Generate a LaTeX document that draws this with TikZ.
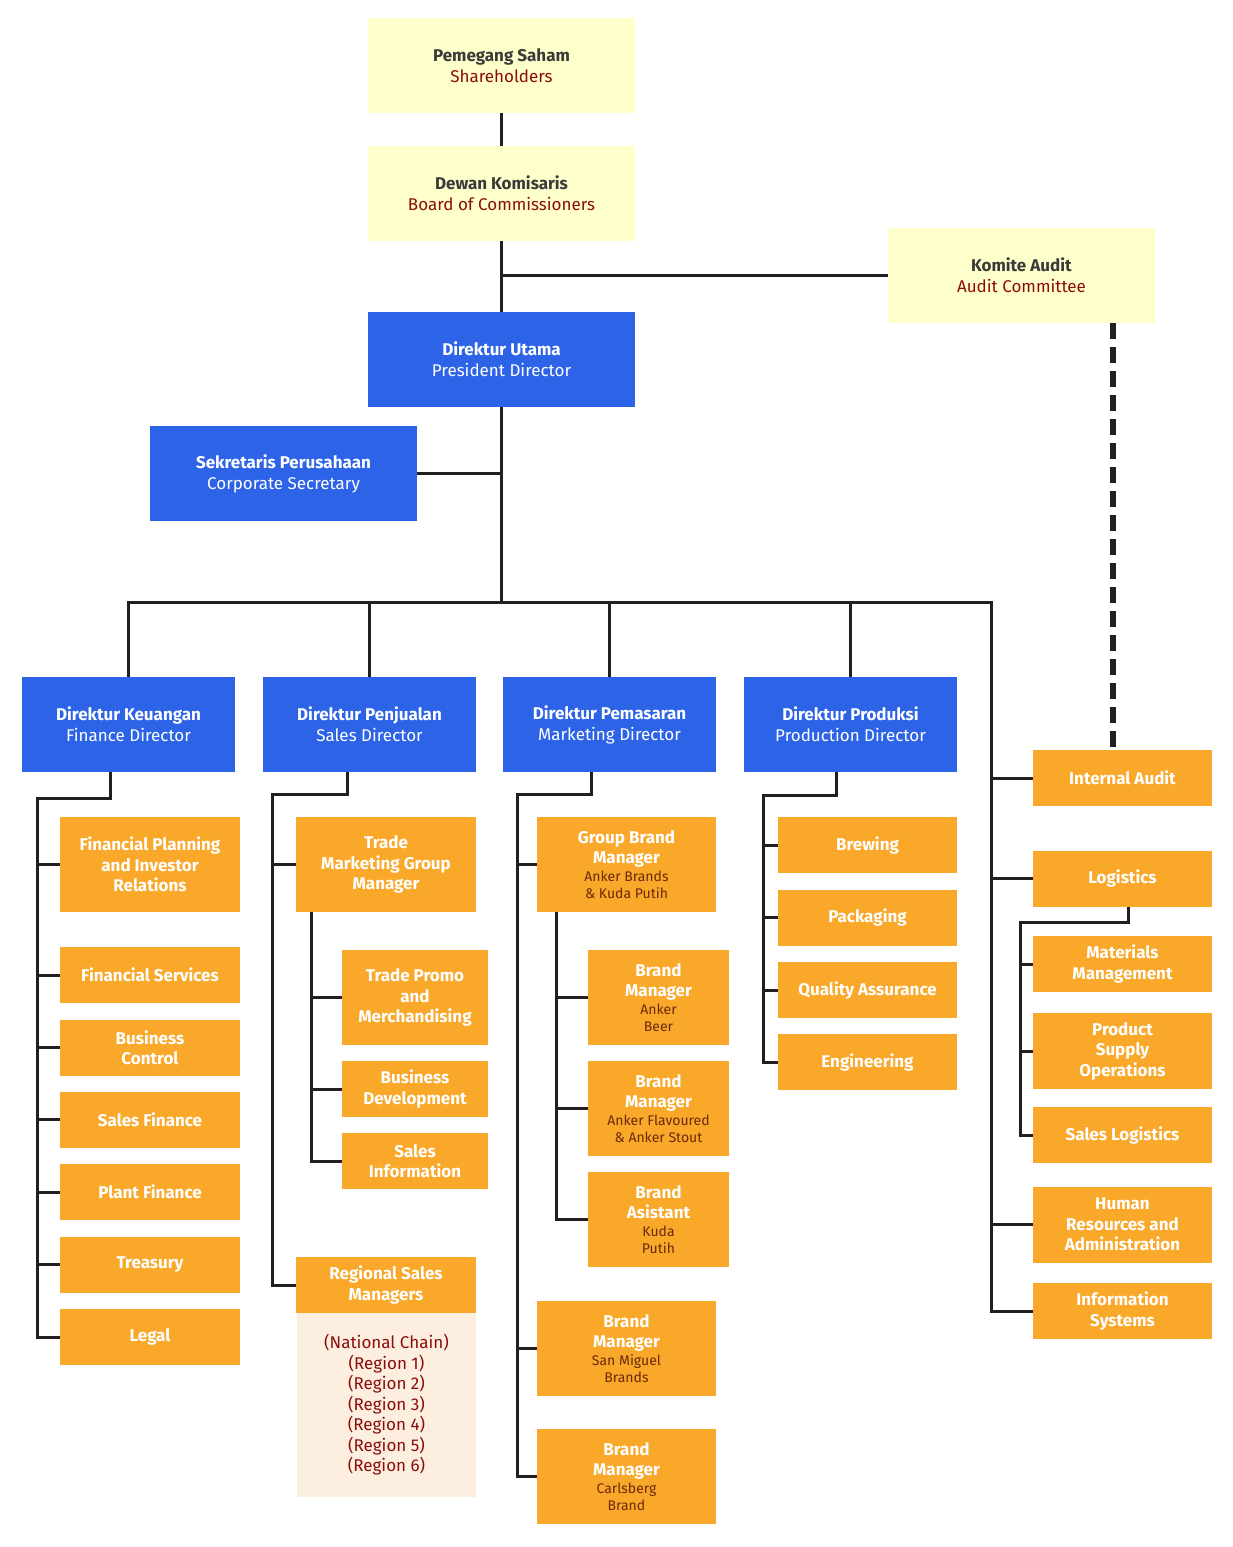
\documentclass[tikz,border=0pt]{standalone}
\usepackage{fontspec}
\setmainfont{Fira Sans}
\usepackage{xcolor}
\usepackage{tikz}
\usetikzlibrary{positioning,calc}
\definecolor{boardfill}{HTML}{FFFFCC}
\definecolor{dirblue}{HTML}{2D64E7}
\definecolor{unitorange}{HTML}{F9A82A}
\definecolor{listfill}{HTML}{FDEFDF}
\definecolor{linecol}{HTML}{231F20}
\definecolor{titlegray}{HTML}{3A3A3A}
\definecolor{boardsub}{HTML}{8B0C0C}
\definecolor{unitbrown}{HTML}{6B2A0A}
\newcommand{\unitsub}[1]{{\fontsize{14}{16}\selectfont\mdseries\color{unitbrown}#1}}

\begin{document}
\begin{tikzpicture}[x=1pt, y=-1pt,
  board/.style={fill=boardfill, minimum width=267pt, minimum height=95pt, inner sep=0pt, align=center, text=titlegray, font=\fontsize{17}{21}\selectfont},
  direktur/.style={fill=dirblue, minimum width=213pt, minimum height=95pt, inner sep=0pt, align=center, text=white, font=\fontsize{17}{21}\selectfont},
  unit/.style={fill=unitorange, minimum width=179pt, minimum height=56pt, inner sep=0pt, align=center, text=white, font=\bfseries\fontsize{17}{20.5}\selectfont},
  link/.style={draw=linecol, line width=3pt},
  audit/.style={draw=linecol, line width=6pt, dash pattern=on 16pt off 8pt}
]
  \useasboundingbox (0,0) rectangle (1233,1547);

  % board level
  \node[board] (sh) at (501.5,65.5) {\textbf{Pemegang Saham}\\{\color{boardsub}Shareholders}};
  \node[board] (boc) at (501.5,193.5) {\textbf{Dewan Komisaris}\\{\color{boardsub}Board of Commissioners}};
  \node[board] (ac) at (1021.5,275.5) {\textbf{Komite Audit}\\{\color{boardsub}Audit Committee}};
  \node[direktur, minimum width=267pt] (pd) at (501.5,359.5) {\textbf{Direktur Utama}\\President Director};
  \node[direktur, minimum width=267pt] (cs) at (283.5,473.5) {\textbf{Sekretaris Perusahaan}\\Corporate Secretary};

  % directors
  \node[direktur] (fd) at (128.5,724.5) {\textbf{Direktur Keuangan}\\Finance Director};
  \node[direktur] (sd) at (369.5,724.5) {\textbf{Direktur Penjualan}\\Sales Director};
  \node[direktur] (md) at (609.5,724.5) {\textbf{Direktur Pemasaran}\\Marketing Director};
  \node[direktur] (prd) at (850.5,724.5) {\textbf{Direktur Produksi}\\Production Director};

  % finance
  \node[unit, minimum width=180pt, minimum height=95pt] (fpir) at (150,864.5) {Financial Planning\\and Investor\\Relations};
  \node[unit, minimum width=180pt] (fs) at (150,975) {Financial Services};
  \node[unit, minimum width=180pt] (bc) at (150,1047.5) {Business\\Control};
  \node[unit, minimum width=180pt] (sf) at (150,1119.5) {Sales Finance};
  \node[unit, minimum width=180pt] (pf) at (150,1192) {Plant Finance};
  \node[unit, minimum width=180pt] (tr) at (150,1264.5) {Treasury};
  \node[unit, minimum width=180pt] (lg) at (150,1337) {Legal};

  % sales
  \node[unit, minimum width=180pt, minimum height=95pt] (tmgm) at (386,864.5) {Trade\\Marketing Group\\Manager};
  \node[unit, minimum width=146pt, minimum height=95pt] (tpm) at (415,997.5) {Trade Promo\\and\\Merchandising};
  \node[unit, minimum width=146pt] (bd) at (415,1089) {Business\\Development};
  \node[unit, minimum width=146pt] (si) at (415,1161) {Sales\\Information};
  \node[unit, minimum width=180pt] (rsm) at (386,1285) {Regional Sales\\Managers};
  \node[fill=listfill, minimum width=179pt, minimum height=184pt, inner sep=0pt, align=center, text=boardsub,
        font=\fontsize{17}{20.5}\selectfont] (rsmlist) at (386.5,1405)
        {(National Chain)\\(Region 1)\\(Region 2)\\(Region 3)\\(Region 4)\\(Region 5)\\(Region 6)};

  % marketing
  \node[unit, minimum height=95pt] (gbm) at (626.5,864.5) {Group Brand\\Manager\\[-3pt]\unitsub{Anker Brands}\\[-3pt]\unitsub{\& Kuda Putih}};
  \node[unit, minimum width=141pt, minimum height=95pt] (bmab) at (658.5,997.5) {Brand\\Manager\\[-3pt]\unitsub{Anker}\\[-3pt]\unitsub{Beer}};
  \node[unit, minimum width=141pt, minimum height=95pt] (bmaf) at (658.5,1108.5) {Brand\\Manager\\[-3pt]\unitsub{Anker Flavoured}\\[-3pt]\unitsub{\& Anker Stout}};
  \node[unit, minimum width=141pt, minimum height=95pt] (bakp) at (658.5,1219.5) {Brand\\Asistant\\[-3pt]\unitsub{Kuda}\\[-3pt]\unitsub{Putih}};
  \node[unit, minimum height=95pt] (bmsm) at (626.5,1348.5) {Brand\\Manager\\[-3pt]\unitsub{San Miguel}\\[-3pt]\unitsub{Brands}};
  \node[unit, minimum height=95pt] (bmcb) at (626.5,1476.5) {Brand\\Manager\\[-3pt]\unitsub{Carlsberg}\\[-3pt]\unitsub{Brand}};

  % production
  \node[unit] (brw) at (867.5,845) {Brewing};
  \node[unit] (pkg) at (867.5,917.5) {Packaging};
  \node[unit] (qa) at (867.5,990) {Quality Assurance};
  \node[unit] (eng) at (867.5,1062) {Engineering};

  % right column
  \node[unit] (ia) at (1122.5,778) {Internal Audit};
  \node[unit] (logi) at (1122.5,878.5) {Logistics};
  \node[unit] (mm) at (1122.5,964) {Materials\\Management};
  \node[unit, minimum height=76pt] (pso) at (1122.5,1051) {Product\\Supply\\Operations};
  \node[unit] (slog) at (1122.5,1135) {Sales Logistics};
  \node[unit, minimum height=76pt] (hra) at (1122.5,1224.5) {Human\\Resources and\\Administration};
  \node[unit] (is) at (1122.5,1311) {Information\\Systems};

  % top links
  \draw[link] (sh) -- (boc);
  \draw[link] (boc) -- (pd);
  \draw[link] (ac.west) -- (ac.west -| boc.south);
  \draw[link] (cs.east) -- (cs.east -| pd.south);
  \coordinate (bus) at (501.5,602);
  \coordinate (rs) at (991,602);
  \draw[link] (pd.south) -- (bus);
  \draw[link] (fd.north) |- (rs) -- (rs |- is.west) -- (is.west);
  \foreach \d in {sd,md,prd}
    \draw[link] (\d.north) -- (\d.north |- bus);
  \foreach \n in {ia,logi,hra}
    \draw[link] (rs |- \n.west) -- (\n.west);
  \coordinate (iatop) at ([xshift=-9.5pt]ia.north);
  \draw[audit] (iatop |- ac.south) -- (iatop);

  % finance links
  \coordinate (fk) at (37,798);
  \draw[link] ([xshift=-18.5pt]fd.south) |- (fk) -- (fk |- lg.west) -- (lg.west);
  \foreach \n in {fpir,fs,bc,sf,pf,tr}
    \draw[link] (fk |- \n.west) -- (\n.west);

  % sales links
  \coordinate (sk) at (272,794);
  \draw[link] ([xshift=-22.5pt]sd.south) |- (sk) -- (sk |- rsm.west) -- (rsm.west);
  \draw[link] (sk |- tmgm.west) -- (tmgm.west);
  \coordinate (tk) at ([xshift=-75pt]tmgm.south);
  \draw[link] (tk) |- (si.west);
  \foreach \n in {tpm,bd}
    \draw[link] (tk |- \n.west) -- (\n.west);

  % marketing links
  \coordinate (mk) at (517,794);
  \draw[link] ([xshift=-18.5pt]md.south) |- (mk) -- (mk |- bmcb.west) -- (bmcb.west);
  \foreach \n in {gbm,bmsm}
    \draw[link] (mk |- \n.west) -- (\n.west);
  \coordinate (gk) at ([xshift=-70.5pt]gbm.south);
  \draw[link] (gk) |- (bakp.west);
  \foreach \n in {bmab,bmaf}
    \draw[link] (gk |- \n.west) -- (\n.west);

  % production links
  \coordinate (pk) at (763,795);
  \draw[link] ([xshift=-14.5pt]prd.south) |- (pk) -- (pk |- eng.west) -- (eng.west);
  \foreach \n in {brw,pkg,qa}
    \draw[link] (pk |- \n.west) -- (\n.west);

  % logistics links
  \coordinate (lk) at (1020,922);
  \draw[link] ([xshift=5.5pt]logi.south) |- (lk) -- (lk |- slog.west) -- (slog.west);
  \foreach \n in {mm,pso}
    \draw[link] (lk |- \n.west) -- (\n.west);
\end{tikzpicture}
\end{document}
